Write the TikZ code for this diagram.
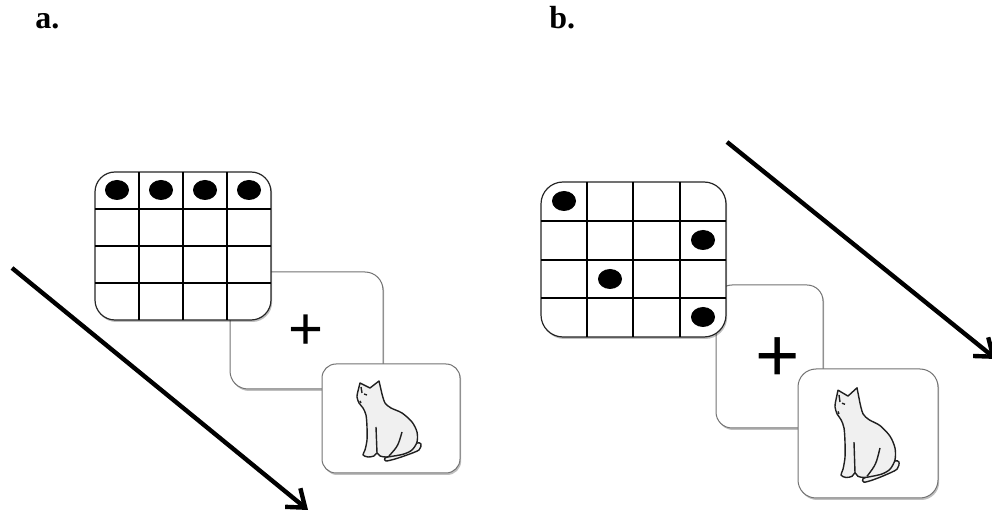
\documentclass[tikz,border=0pt]{standalone}
\usepackage{fontspec}
\setmainfont{Liberation Serif}
\newfontfamily\crossfont{Liberation Sans}
\usetikzlibrary{arrows.meta,shadows}

\tikzset{
  card/.style={draw=black!55, fill=white, line width=0.5pt, rounded corners=8pt,
    inner sep=0pt, outer sep=0pt,
    drop shadow={shadow xshift=0.6pt, shadow yshift=-1pt, opacity=0.25, fill=black}},
  gridcard/.style={card, draw=black!85, line width=0.6pt, rounded corners=10pt},
  gridline/.style={line width=0.9pt, black},
  dot/.style={fill=black},
  fixcross/.style={font=\crossfont\fontsize{30}{30}\selectfont, inner sep=0pt},
  timeline/.style={line width=2.2pt, -{Straight Barb[length=8pt,width=12pt]}},
  panel/.style={font=\bfseries\fontsize{16}{18}\selectfont, inner sep=0pt, anchor=base west},
  catline/.style={draw=gray!25!black, fill=gray!12, line width=0.7pt, line join=round},
  cat/.pic={
    % tail goes first so the body hides its root
    \draw[catline] plot[smooth cycle] coordinates {(54,67) (61,61) (65,62) (63,68) (51,73) (39,77) (30,79) (29,76) (38,73) (49,70)};
    % head and body
    \draw[catline] (4,1) -- plot[smooth] coordinates {(2,9) (1,15) (3,21) (7,26) (10,33) (11,45) (11,58) (9,68) (7,73) (12,75) (18,74) (21,71) (24,74) (30,75) (38,74) (48,72) (56,68) (61,60) (61,50) (56,40) (46,31) (35,26) (29,21) (26,12)} -- (23,-1) -- (14,6) -- cycle;
    % legs, ear, eye
    \draw[catline, fill=none] (20,45) .. controls (21,58) .. (21,71);
    \draw[catline, fill=none] (46,50) .. controls (42,64) .. (33,74);
    \draw[catline, fill=none] (8,12) -- (11,13);
    \draw[catline, fill=none] (5,5) -- (6,11);
    \draw[catline, fill=none] (4,19) -- (5,21);
  }
}

\begin{document}
\begin{tikzpicture}[x=0.5pt, y=-0.5pt]
    \useasboundingbox (0,0) rectangle (992,513);
    \clip (0,0) rectangle (992,513);

    % panel a
    \node[panel] (labela) at (35,29) {a.};
    \coordinate (starta) at (12,268);
    \coordinate (enda) at (308,510);
    \draw[timeline] (starta) -- (enda);
    \node[card, rounded corners=9pt, minimum width=76.5pt, minimum height=58.5pt] (fixa) at (306.5,330.5) {};
    \node[fixcross] (plusa) at (306,332) {+};
    \node[gridcard, minimum width=88pt, minimum height=74pt] (grida) at (183,246) {};
    \foreach \x in {139,183,227} \draw[gridline] (\x,172) -- (\x,320);
    \foreach \y in {209,246,283} \draw[gridline] (95,\y) -- (271,\y);
    \foreach \x in {117,161,205,249} \fill[dot] (\x,190) ellipse [x radius=6pt, y radius=5pt];
    \node[card, rounded corners=7pt, minimum width=69pt, minimum height=54.5pt] (picta) at (391,418.5) {};
    \pic at (356,382) {cat};

    % panel b
    \node[panel] (labelb) at (549,29) {b.};
    \coordinate (startb) at (727,142);
    \coordinate (endb) at (996,359);
    \draw[timeline] (startb) -- (endb);
    \node[card, rounded corners=8pt, minimum width=53.5pt, minimum height=71.5pt] (fixb) at (769.5,356.5) {};
    \node[fixcross, font=\crossfont\fontsize{38}{38}\selectfont] (plusb) at (778,360) {+};
    \node[gridcard, rounded corners=11pt, minimum width=92.5pt, minimum height=77.5pt] (gridb) at (633.5,259.5) {};
    \foreach \x in {587,633,680} \draw[gridline] (\x,182) -- (\x,337);
    \foreach \y in {221,260,298} \draw[gridline] (541,\y) -- (726,\y);
    \foreach \x/\y in {564/201, 703/240, 610/279, 703/317} \fill[dot] (\x,\y) ellipse [x radius=6pt, y radius=5pt];
    \node[card, rounded corners=9pt, minimum width=70pt, minimum height=64.5pt] (pictb) at (868,433.5) {};
    \pic[yscale=1.18] at (834,389) {cat};
\end{tikzpicture}
\end{document}
